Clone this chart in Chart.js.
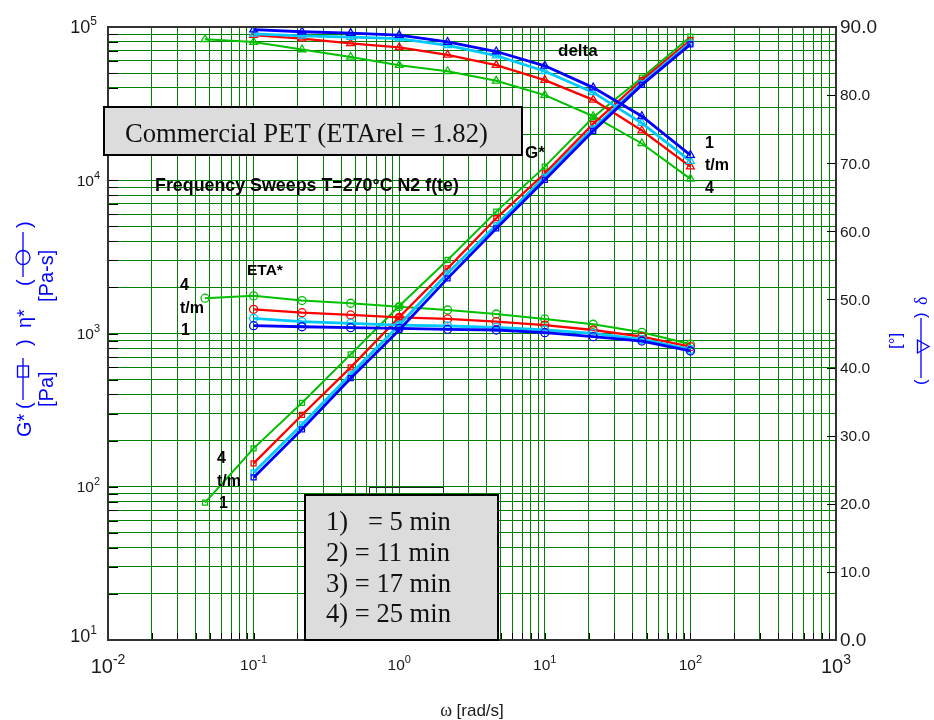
<!DOCTYPE html>
<html>
<head>
<meta charset="utf-8">
<script src="https://cdn.jsdelivr.net/npm/chart.js@4/dist/chart.umd.min.js"></script>
<style>
  html, body { margin: 0; padding: 0; background: #fff; }
  canvas { display: block; }
</style>
</head>
<body>
<canvas id="chart" width="934" height="720"></canvas>
<script>
// angular frequency, rad/s
const omega = [0.1, 0.215, 0.464, 1, 2.15, 4.64, 10, 21.5, 46.4, 100];
const omega4 = [0.0464, 0.1, 0.215, 0.464, 1, 2.15, 4.64, 10, 21.5, 46.4, 100];

// G* [Pa]
const gStar1 = [115, 237, 511, 1055, 2290, 4850, 10050, 21000, 41900, 77100];
const gStar2 = [124, 255, 542, 1135, 2470, 5100, 10540, 21800, 42900, 79000];
const gStar3 = [142, 294, 601, 1277, 2660, 5650, 11090, 23300, 45100, 82200];
const gStar4 = [78.7, 178, 353, 731, 1510, 3020, 6240, 12270, 25760, 46700, 86400];

// eta* [Pa-s]
const eta1 = [1124, 1107, 1091, 1081, 1065, 1054, 1012, 953, 893, 769];
const eta2 = [1257, 1195, 1165, 1135, 1119, 1097, 1054, 1003, 916, 788];
const eta3 = [1438, 1367, 1321, 1276, 1244, 1195, 1135, 1054, 953, 820];
const eta4 = [1700, 1760, 1640, 1575, 1496, 1423, 1340, 1244, 1149, 1018, 851];

// delta [deg]
const delta1 = [89.6, 89.3, 89.1, 88.8, 87.8, 86.4, 84.3, 81.1, 76.9, 71.2];
const delta2 = [89.0, 88.7, 88.5, 88.3, 87.3, 85.8, 83.5, 80.4, 75.9, 70.3];
const delta3 = [88.8, 88.3, 87.6, 87.0, 85.9, 84.4, 82.2, 79.3, 74.8, 69.5];
const delta4 = [88.2, 87.8, 86.7, 85.6, 84.4, 83.5, 82.1, 80.0, 76.9, 72.9, 67.7];

// axes
const xDecades = [-2, -1, 0, 1, 2, 3];
const yDecades = [1, 2, 3, 4, 5];
const minorSteps = [1, 2, 3, 4, 5, 6, 7, 8, 9];
const deltaTicks = [0, 10, 20, 30, 40, 50, 60, 70, 80, 90];
const legendLines = ['1)', '2) = 11 min', '3) = 17 min', '4) = 25 min'];

const colors = { c1: '#0000ff', c2: '#00c8ff', c3: '#ff0000', c4: '#00c000' };
const SANS = '"Liberation Sans", Arial, sans-serif';
const SERIF = '"Liberation Serif", "Times New Roman", serif';

function logTicks(decades) {
  const out = [];
  for (let i = 0; i < decades.length - 1; i++) {
    minorSteps.forEach((m) => out.push({ value: m * Math.pow(10, decades[i]) }));
  }
  out.push({ value: Math.pow(10, decades[decades.length - 1]) });
  return out;
}

function series(xs, ys, color, style, axis, width, radius) {
  return {
    data: xs.map((x, i) => ({ x, y: ys[i] })),
    borderColor: color,
    backgroundColor: color,
    borderWidth: width,
    pointStyle: style,
    pointRadius: radius,
    pointBorderColor: color,
    pointBackgroundColor: 'rgba(0,0,0,0)',
    pointBorderWidth: 1.3,
    yAxisID: axis,
    tension: 0
  };
}

function drawPower(ctx, x, y, exp, size, align) {
  ctx.font = `${size}px ${SANS}`;
  const wBase = ctx.measureText('10').width;
  const supSize = Math.round(size * 0.68);
  ctx.font = `${supSize}px ${SANS}`;
  const sup = String(exp);
  const wSup = ctx.measureText(sup).width;
  const total = wBase + wSup;
  let x0 = x;
  if (align === 'center') x0 = x - total / 2;
  if (align === 'right') x0 = x - total;
  ctx.textAlign = 'left';
  ctx.textBaseline = 'alphabetic';
  ctx.font = `${size}px ${SANS}`;
  ctx.fillText('10', x0, y);
  ctx.font = `${supSize}px ${SANS}`;
  ctx.fillText(sup, x0 + wBase, y - size * 0.45);
}

function rotText(ctx, text, x, yBottom, font, color) {
  ctx.save();
  ctx.translate(x, yBottom);
  ctx.rotate(-Math.PI / 2);
  ctx.font = font;
  ctx.fillStyle = color;
  ctx.textAlign = 'left';
  ctx.textBaseline = 'alphabetic';
  ctx.fillText(text, 0, 0);
  ctx.restore();
}

function fitSize(ctx, text, width, weight, family) {
  ctx.font = `${weight} 100px ${family}`;
  return 100 * width / ctx.measureText(text).width;
}

function boldText(ctx, text, x, y, size) {
  ctx.font = `bold ${size}px ${SANS}`;
  ctx.fillStyle = '#000';
  ctx.textAlign = 'left';
  ctx.textBaseline = 'alphabetic';
  ctx.fillText(text, x, y);
}

const decor = {
  id: 'decor',
  afterDraw(chart) {
    const { ctx, chartArea: a, scales } = chart;
    const sx = scales.x, sy = scales.y, sd = scales.y2;
    ctx.save();

    // inward tick marks
    ctx.strokeStyle = '#000';
    ctx.lineWidth = 1;
    ctx.beginPath();
    logTicks(yDecades).forEach((t) => {
      const y = Math.round(sy.getPixelForValue(t.value)) + 0.5;
      ctx.moveTo(a.left, y);
      ctx.lineTo(a.left + 10, y);
    });
    logTicks(xDecades).forEach((t) => {
      const x = Math.round(sx.getPixelForValue(t.value)) + 0.5;
      ctx.moveTo(x, a.bottom);
      ctx.lineTo(x, a.bottom - 7);
    });
    deltaTicks.forEach((v) => {
      const y = Math.round(sd.getPixelForValue(v)) + 0.5;
      ctx.moveTo(a.right, y);
      ctx.lineTo(a.right - 9, y);
    });
    ctx.stroke();

    // frame
    ctx.strokeStyle = '#333';
    ctx.lineWidth = 2;
    ctx.strokeRect(a.left, a.top, a.right - a.left, a.bottom - a.top);

    // tick labels
    ctx.fillStyle = '#1a1a1a';
    xDecades.forEach((e, i) => {
      const big = i === 0 || i === xDecades.length - 1;
      drawPower(ctx, sx.getPixelForValue(Math.pow(10, e)), big ? 673 : 670, e, big ? 20 : 15.5, 'center');
    });
    yDecades.forEach((e, i) => {
      const big = i === 0 || i === yDecades.length - 1;
      let y = sy.getPixelForValue(Math.pow(10, e)) + (big ? 6 : 5.5);
      if (i === 0) y -= 4;
      drawPower(ctx, big ? 97 : 100, y, e, big ? 18 : 15.5, 'right');
    });
    deltaTicks.forEach((v, i) => {
      const big = i === 0 || i === deltaTicks.length - 1;
      ctx.font = `${big ? 19 : 15.5}px ${SANS}`;
      ctx.textAlign = 'left';
      ctx.textBaseline = 'middle';
      ctx.fillText(v.toFixed(1), 840, sd.getPixelForValue(v) + 1);
    });

    // x title
    ctx.textBaseline = 'alphabetic';
    ctx.font = `18px ${SERIF}`;
    const wOm = ctx.measureText('\u03c9 ').width;
    ctx.font = `17px ${SANS}`;
    const wRest = ctx.measureText('[rad/s]').width;
    const x0 = 472 - (wOm + wRest) / 2;
    ctx.font = `18px ${SERIF}`;
    ctx.fillText('\u03c9', x0, 716);
    ctx.font = `17px ${SANS}`;
    ctx.fillText('[rad/s]', x0 + wOm, 716);

    // left title
    const blue = '#0000ff';
    const f20 = `20px ${SANS}`;
    rotText(ctx, 'G*', 31, 437, f20, blue);
    rotText(ctx, '(', 31, 409, f20, blue);
    rotText(ctx, ')', 31, 346, f20, blue);
    rotText(ctx, '\u03b7*', 31, 328, f20, blue);
    rotText(ctx, '(', 31, 286, f20, blue);
    rotText(ctx, ')', 31, 228, f20, blue);
    rotText(ctx, '[Pa]', 53, 407, f20, blue);
    rotText(ctx, '[Pa-s]', 53, 302, f20, blue);
    ctx.strokeStyle = blue;
    ctx.lineWidth = 1.3;
    ctx.beginPath();
    ctx.moveTo(23, 358); ctx.lineTo(23, 400);
    ctx.moveTo(23, 232); ctx.lineTo(23, 277);
    ctx.stroke();
    ctx.strokeRect(17.5, 366, 11, 11);
    ctx.beginPath();
    ctx.arc(23, 257.5, 7, 0, Math.PI * 2);
    ctx.stroke();

    // right title
    const f17 = `17px ${SANS}`;
    rotText(ctx, '\u03b4', 927, 305, `18px ${SERIF}`, blue);
    rotText(ctx, ')', 926, 318, f17, blue);
    rotText(ctx, '(', 926, 385, f17, blue);
    rotText(ctx, '[\u00b0]', 901, 349, f17, blue);
    ctx.beginPath();
    ctx.moveTo(921, 318); ctx.lineTo(921, 378);
    ctx.moveTo(917.5, 340); ctx.lineTo(929, 346.5); ctx.lineTo(917.5, 353); ctx.closePath();
    ctx.fillStyle = '#fff';
    ctx.fill();
    ctx.stroke();

    // title box
    ctx.fillStyle = '#dcdcdc';
    ctx.fillRect(104, 107, 418, 48);
    ctx.strokeStyle = '#000';
    ctx.lineWidth = 2;
    ctx.strokeRect(104, 107, 418, 48);
    const title = 'Commercial PET (ETArel = 1.82)';
    const tSize = fitSize(ctx, title, 363, 'normal', SERIF);
    ctx.font = `${tSize}px ${SERIF}`;
    ctx.fillStyle = '#111';
    ctx.textAlign = 'left';
    ctx.fillText(title, 125, 142);

    // subtitle
    const sub = 'Frequency Sweeps T=270\u00b0C N2 f(te)';
    boldText(ctx, sub, 155, 191, fitSize(ctx, sub, 304, 'bold', SANS));

    // annotations
    boldText(ctx, 'delta', 558, 56, 17);
    boldText(ctx, 'G*', 525, 158, 17);
    boldText(ctx, 'ETA*', 247, 275, 15.5);
    boldText(ctx, '4', 180, 290, 16);
    boldText(ctx, 't/m', 180, 313, 16);
    boldText(ctx, '1', 181, 335, 16);
    boldText(ctx, '4', 217, 463, 16);
    boldText(ctx, 't/m', 217, 486, 16);
    boldText(ctx, '1', 219, 508, 16);
    boldText(ctx, '1', 705, 148, 16);
    boldText(ctx, 't/m', 705, 170, 16);
    boldText(ctx, '4', 705, 193, 16);

    // legend box
    ctx.strokeStyle = '#222';
    ctx.lineWidth = 1;
    ctx.strokeRect(369.5, 487.5, 74, 8);
    ctx.fillStyle = '#dcdcdc';
    ctx.fillRect(305, 495, 193, 145);
    ctx.strokeStyle = '#000';
    ctx.lineWidth = 2;
    ctx.strokeRect(305, 495, 193, 145);
    const lSize = fitSize(ctx, legendLines[1], 124, 'normal', SERIF);
    ctx.font = `${lSize}px ${SERIF}`;
    ctx.fillStyle = '#111';
    const baselines = [530, 561, 592, 622];
    legendLines.forEach((s, i) => ctx.fillText(s, 326, baselines[i]));
    ctx.fillText('= 5 min', 368, baselines[0]);

    ctx.restore();
  }
};

const gridOpts = { color: '#008000', lineWidth: 1, drawTicks: false };

new Chart(document.getElementById('chart').getContext('2d'), {
  type: 'line',
  data: {
    datasets: [
      series(omega, delta1, colors.c1, 'triangle', 'y2', 2.8, 4.5),
      series(omega, gStar1, colors.c1, 'rect', 'y', 2.8, 3.5),
      series(omega, eta1, colors.c1, 'circle', 'y', 2.8, 4),
      series(omega, delta2, colors.c2, 'triangle', 'y2', 2.8, 4.5),
      series(omega, gStar2, colors.c2, 'rect', 'y', 2.8, 3.5),
      series(omega, eta2, colors.c2, 'circle', 'y', 2.8, 4),
      series(omega, delta3, colors.c3, 'triangle', 'y2', 2.3, 4.5),
      series(omega, gStar3, colors.c3, 'rect', 'y', 2.3, 3.5),
      series(omega, eta3, colors.c3, 'circle', 'y', 2.3, 4),
      series(omega4, delta4, colors.c4, 'triangle', 'y2', 2, 4.5),
      series(omega4, gStar4, colors.c4, 'rect', 'y', 2, 3.5),
      series(omega4, eta4, colors.c4, 'circle', 'y', 2, 4)
    ]
  },
  options: {
    responsive: false,
    animation: false,
    devicePixelRatio: 1,
    layout: { padding: { left: 108, top: 27, right: 98, bottom: 80 } },
    plugins: { legend: { display: false }, tooltip: { enabled: false } },
    scales: {
      x: {
        type: 'logarithmic',
        min: 0.01,
        max: 1000,
        grid: gridOpts,
        border: { display: false },
        ticks: { display: false },
        afterBuildTicks(scale) { scale.ticks = logTicks(xDecades); }
      },
      y: {
        type: 'logarithmic',
        position: 'left',
        min: 10,
        max: 100000,
        grid: gridOpts,
        border: { display: false },
        ticks: { display: false },
        afterBuildTicks(scale) { scale.ticks = logTicks(yDecades); }
      },
      y2: {
        type: 'linear',
        position: 'right',
        min: 0,
        max: 90,
        grid: { display: false, drawTicks: false },
        border: { display: false },
        ticks: { display: false }
      }
    }
  },
  plugins: [decor]
});
</script>
</body>
</html>
